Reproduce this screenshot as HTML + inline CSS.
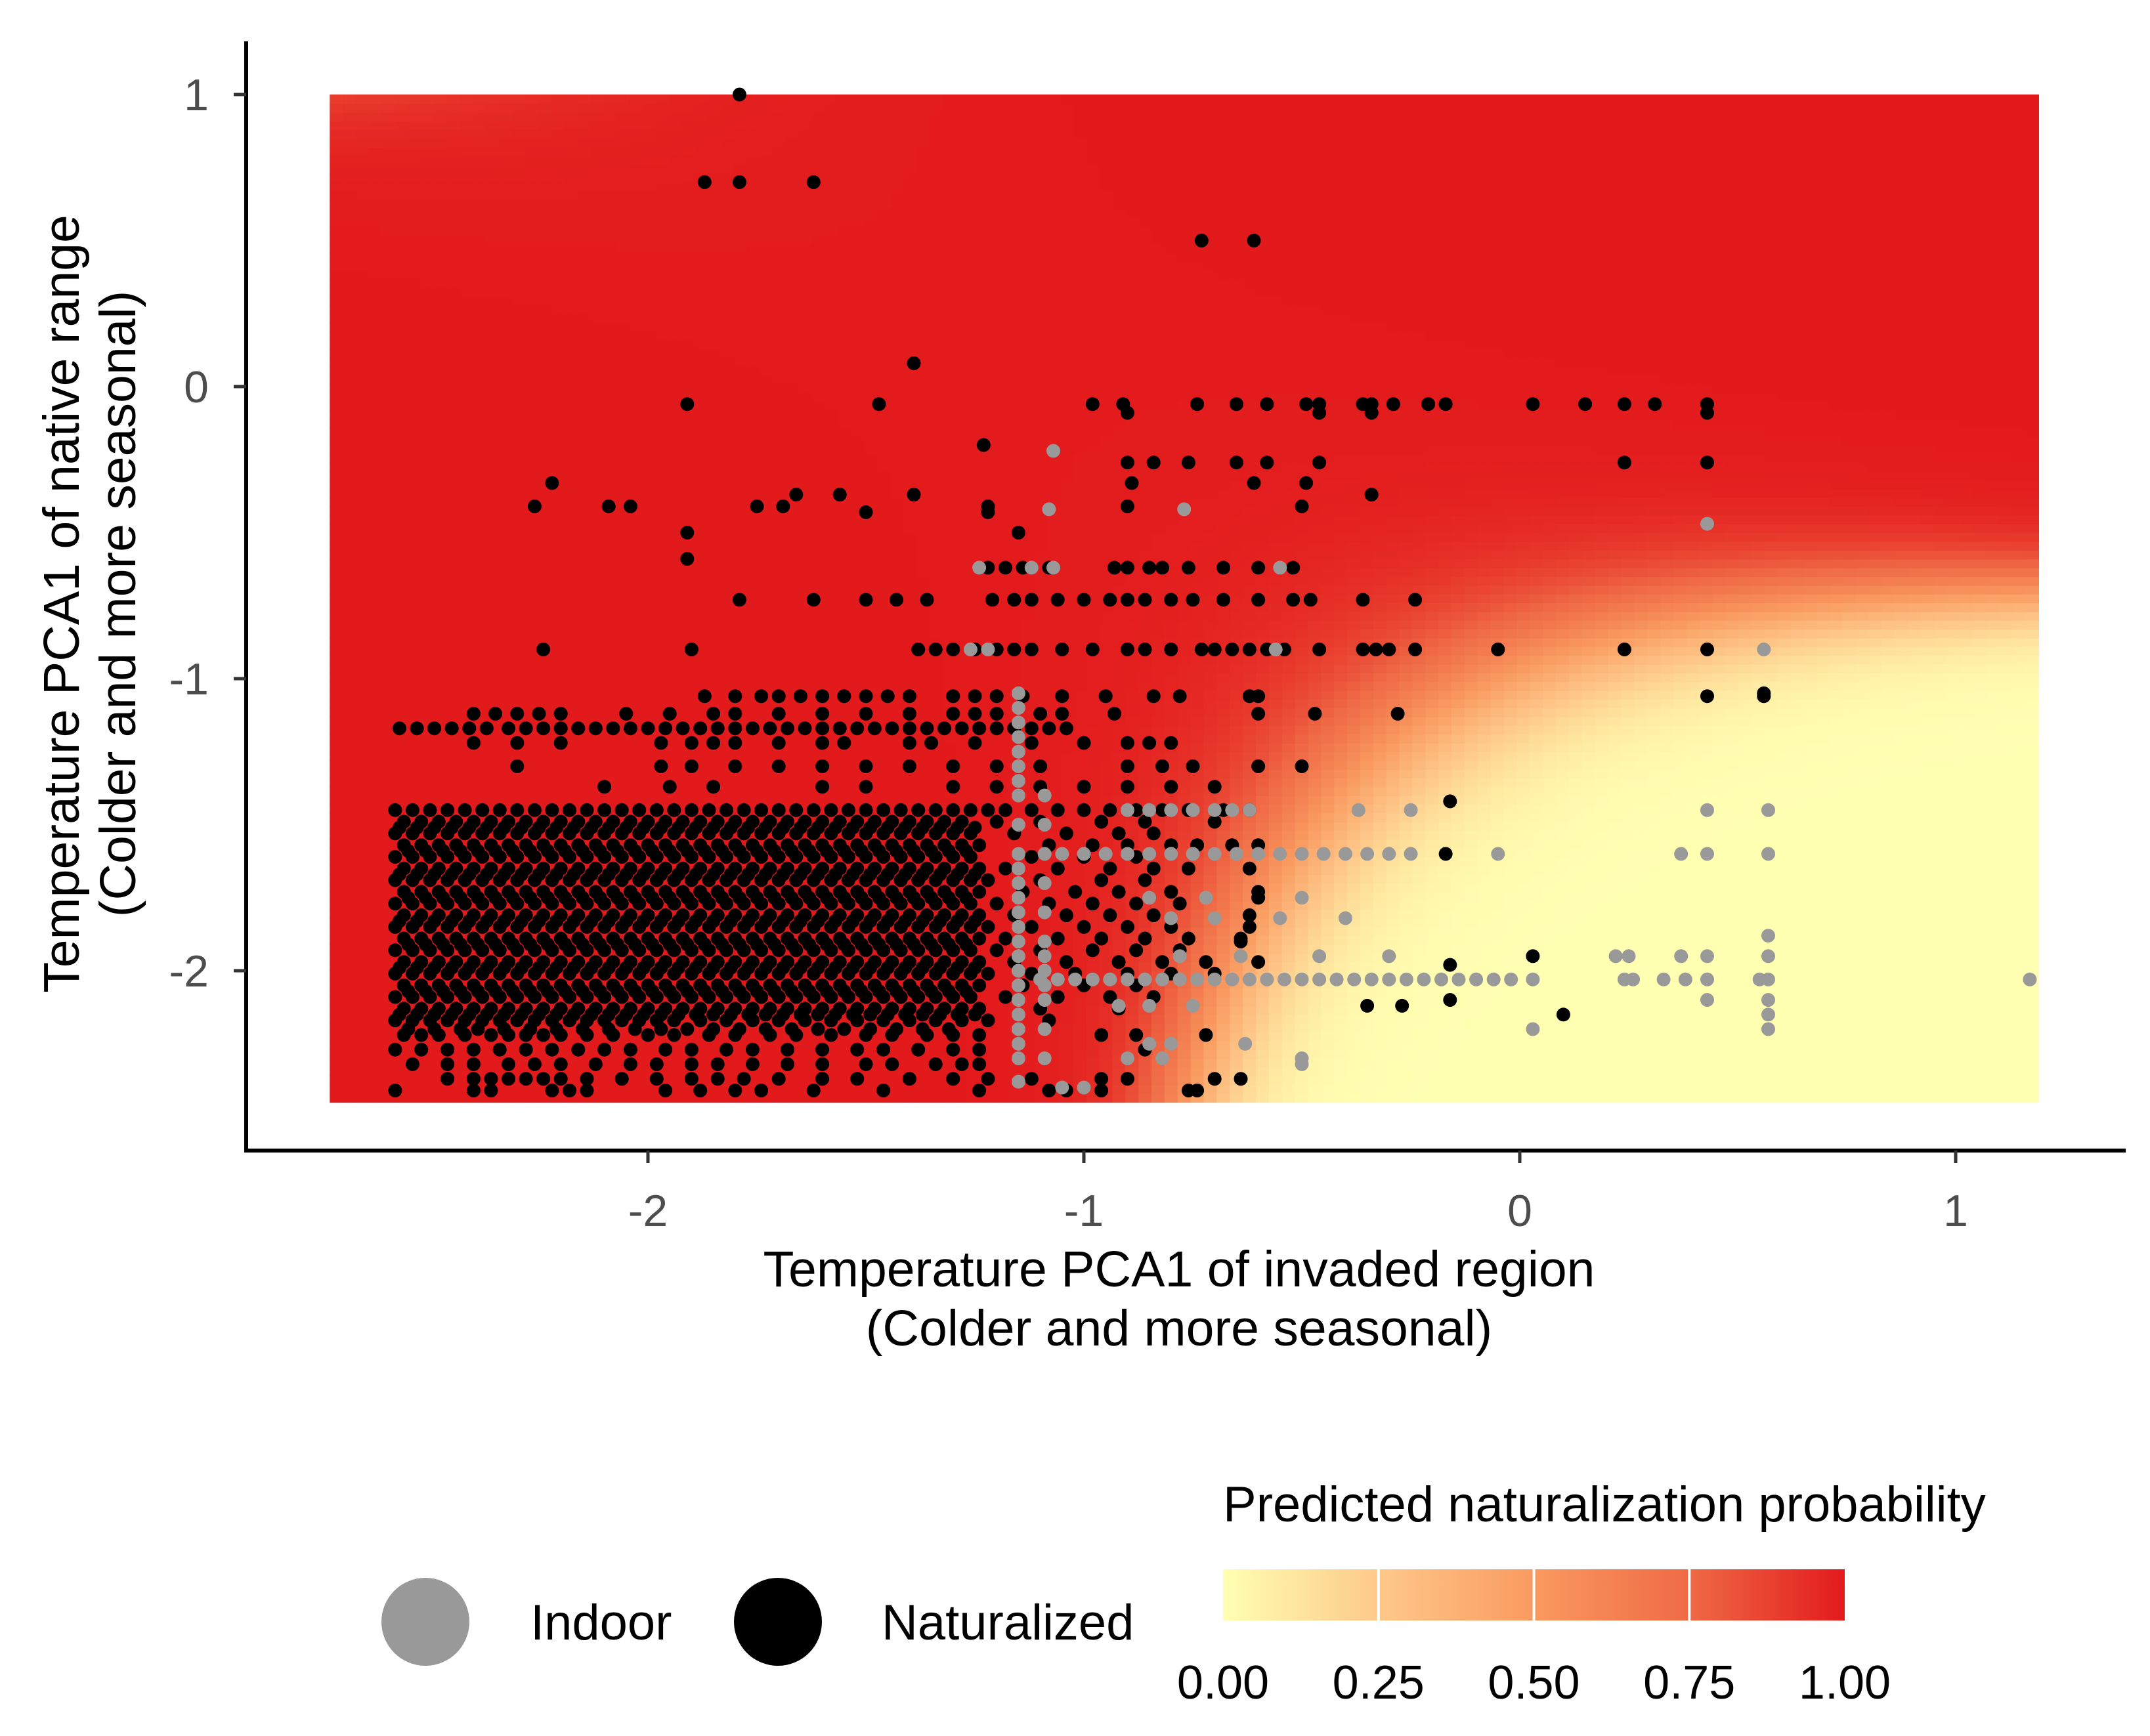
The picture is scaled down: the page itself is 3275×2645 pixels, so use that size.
<!DOCTYPE html>
<html><head><meta charset="utf-8"><style>
html,body{margin:0;padding:0;background:#fff}
svg{display:block;font-family:"Liberation Sans",Arial,sans-serif}
</style></head><body>
<svg id="chart" width="3275" height="2645" viewBox="0 0 3275 2645" xmlns="http://www.w3.org/2000/svg">
<rect width="3275" height="2645" fill="#fff"/>
<g id="heat"></g>
<g id="pts"></g>
<g id="axes"></g>
<text x="1796" y="1960" font-size="77" text-anchor="middle" fill="#000">Temperature PCA1 of invaded region</text>
<text x="1796" y="2050" font-size="77" text-anchor="middle" fill="#000">(Colder and more seasonal)</text>
<text transform="translate(120,920) rotate(-90)" font-size="77" text-anchor="middle" fill="#000">Temperature PCA1 of native range</text>
<text transform="translate(206,920) rotate(-90)" font-size="77" text-anchor="middle" fill="#000">(Colder and more seasonal)</text>
<g>
<circle cx="648" cy="2471" r="67" fill="#999999"/>
<text x="808" y="2498" font-size="76" fill="#000">Indoor</text>
<circle cx="1185" cy="2471" r="67" fill="#000"/>
<text x="1343" y="2498" font-size="76" fill="#000">Naturalized</text>
</g>
<g id="cbar">
<text x="1863" y="2318" font-size="76" fill="#000">Predicted naturalization probability</text>
<defs><linearGradient id="grad" x1="0" x2="1" y1="0" y2="0">
<stop offset="0" stop-color="#FFFFB2"/><stop offset="0.25" stop-color="#FEC98A"/><stop offset="0.5" stop-color="#F99A60"/><stop offset="0.75" stop-color="#EF6A45"/><stop offset="1" stop-color="#E31A1C"/></linearGradient></defs>
<rect x="1863" y="2391" width="947" height="78" fill="url(#grad)"/>
</g>
</svg>
<script>
const X0=2315, XU=664, Y0=589, YU=445;
function sx(v){return X0+v*XU;}
function sy(v){return Y0-v*YU;}
const NS="http://www.w3.org/2000/svg";
function mk(tag,attrs,parent){const e=document.createElementNS(NS,tag);for(const k in attrs)e.setAttribute(k,attrs[k]);parent.appendChild(e);return e;}

// ---- model / heatmap data ----
const modelCoef=[0.968,0.185,1.0,0.823,0.15];
const modelScale=[6];
const gridX=[-2.73,1.19];
const gridY=[-2.45,1.0];
const colorStops=["#FFFFB2","#FEC98A","#F99A60","#EF6A45","#E31A1C"];
const xTicks=[-2,-1,0,1];
const yTicks=[1,0,-1,-2];
const cbarTicks=["0.00","0.25","0.50","0.75","1.00"];

// ---- point data (values in hundredths) ----
const natRows=[
[-145,[-258,-254,-250,-246,-242,-238,-234,-230,-226,-222,-218,-214,-210,-206,-202,-198,-194,-190,-186,-182,-178,-174,-170,-166,-162,-158,-154,-150,-146,-142,-138,-134,-130,-126,-122,-118,-112,-106,-100,-94,-88,-82,-76,-68,-62]],
[-149,[-256,-252,-248,-244,-240,-236,-232,-228,-224,-220,-216,-212,-208,-204,-200,-196,-192,-188,-184,-180,-176,-172,-168,-164,-160,-156,-152,-148,-144,-140,-136,-132,-128,-120,-110,-96,-86,-70]],
[-153,[-258,-254,-250,-246,-242,-238,-234,-230,-226,-222,-218,-214,-210,-206,-202,-198,-194,-190,-186,-182,-178,-174,-170,-166,-162,-158,-154,-150,-146,-142,-138,-134,-130,-126,-116,-104,-92,-84]],
[-157,[-256,-252,-248,-244,-240,-236,-232,-228,-224,-220,-216,-212,-208,-204,-200,-196,-192,-188,-184,-180,-176,-172,-168,-164,-160,-156,-152,-148,-144,-140,-136,-132,-128,-124,-108,-98,-90,-80,-74,-66,-60]],
[-161,[-258,-254,-250,-246,-242,-238,-234,-230,-226,-222,-218,-214,-210,-206,-202,-198,-194,-190,-186,-182,-178,-174,-170,-166,-162,-158,-154,-150,-146,-142,-138,-134,-130,-126,-112,-100,-88]],
[-165,[-256,-252,-248,-244,-240,-236,-232,-228,-224,-220,-216,-212,-208,-204,-200,-196,-192,-188,-184,-180,-176,-172,-168,-164,-160,-156,-152,-148,-144,-140,-136,-132,-128,-124,-118,-106,-94,-84,-76,-62]],
[-169,[-258,-254,-250,-246,-242,-238,-234,-230,-226,-222,-218,-214,-210,-206,-202,-198,-194,-190,-186,-182,-178,-174,-170,-166,-162,-158,-154,-150,-146,-142,-138,-134,-130,-126,-122,-110,-96,-86]],
[-173,[-256,-252,-248,-244,-240,-236,-232,-228,-224,-220,-216,-212,-208,-204,-200,-196,-192,-188,-184,-180,-176,-172,-168,-164,-160,-156,-152,-148,-144,-140,-136,-132,-128,-124,-114,-102,-92,-80,-60]],
[-177,[-258,-254,-250,-246,-242,-238,-234,-230,-226,-222,-218,-214,-210,-206,-202,-198,-194,-190,-186,-182,-178,-174,-170,-166,-162,-158,-154,-150,-146,-142,-138,-134,-130,-126,-120,-108,-98,-88,-78]],
[-181,[-256,-252,-248,-244,-240,-236,-232,-228,-224,-220,-216,-212,-208,-204,-200,-196,-192,-188,-184,-180,-176,-172,-168,-164,-160,-156,-152,-148,-144,-140,-136,-132,-128,-124,-116,-104,-94,-84,-62]],
[-185,[-258,-254,-250,-246,-242,-238,-234,-230,-226,-222,-218,-214,-210,-206,-202,-198,-194,-190,-186,-182,-178,-174,-170,-166,-162,-158,-154,-150,-146,-142,-138,-134,-130,-126,-122,-112,-100,-90,-80]],
[-189,[-256,-252,-248,-244,-240,-236,-232,-228,-224,-220,-216,-212,-208,-204,-200,-196,-192,-188,-184,-180,-176,-172,-168,-164,-160,-156,-152,-148,-144,-140,-136,-132,-128,-124,-118,-106,-96,-86,-76,-64]],
[-193,[-258,-254,-250,-246,-242,-238,-234,-230,-226,-222,-218,-214,-210,-206,-202,-198,-194,-190,-186,-182,-178,-174,-170,-166,-162,-158,-154,-150,-146,-142,-138,-134,-130,-126,-120,-110,-98,-88,-78]],
[-197,[-256,-252,-248,-244,-240,-236,-232,-228,-224,-220,-216,-212,-208,-204,-200,-196,-192,-188,-184,-180,-176,-172,-168,-164,-160,-156,-152,-148,-144,-140,-136,-132,-128,-124,-116,-104,-92,-82,-72]],
[-201,[-258,-254,-250,-246,-242,-238,-234,-230,-226,-222,-218,-214,-210,-206,-202,-198,-194,-190,-186,-182,-178,-174,-170,-166,-162,-158,-154,-150,-146,-142,-138,-134,-130,-126,-122,-112,-102,-90,-80,-70]],
[-205,[-256,-252,-248,-244,-240,-236,-232,-228,-224,-220,-216,-212,-208,-204,-200,-196,-192,-188,-184,-180,-176,-172,-168,-164,-160,-156,-152,-148,-144,-140,-136,-132,-128,-124,-114,-100,-88]],
[-209,[-258,-254,-250,-246,-242,-238,-234,-230,-226,-222,-218,-214,-210,-206,-202,-198,-194,-190,-186,-182,-178,-174,-170,-166,-162,-158,-154,-150,-146,-142,-138,-134,-130,-126,-118,-106,-94,-84]],
[-213,[-256,-252,-248,-244,-240,-236,-232,-228,-224,-220,-216,-212,-208,-204,-200,-196,-192,-188,-184,-180,-176,-172,-168,-164,-160,-156,-152,-148,-144,-140,-136,-132,-128,-124,-110,-92]],
[-217,[-258,-254,-250,-246,-242,-238,-234,-230,-226,-222,-218,-214,-210,-206,-202,-198,-194,-188,-182,-176,-170,-164,-158,-152,-146,-140,-134,-128,-122,-108]],
[-151,[-257,-253,-249,-245,-241,-237,-233,-229,-225,-221,-217,-213,-209,-205,-201,-197,-193,-189,-185,-181,-177,-173,-169,-165,-161,-157,-153,-149,-145,-141,-137,-133,-129,-125]],
[-159,[-255,-251,-247,-243,-239,-235,-231,-227,-223,-219,-215,-211,-207,-203,-199,-195,-191,-187,-183,-179,-175,-171,-167,-163,-159,-155,-151,-147,-143,-139,-135,-131,-127]],
[-167,[-257,-253,-249,-245,-241,-237,-233,-229,-225,-221,-217,-213,-209,-205,-201,-197,-193,-189,-185,-181,-177,-173,-169,-165,-161,-157,-153,-149,-145,-141,-137,-133,-129,-125]],
[-175,[-255,-251,-247,-243,-239,-235,-231,-227,-223,-219,-215,-211,-207,-203,-199,-195,-191,-187,-183,-179,-175,-171,-167,-163,-159,-155,-151,-147,-143,-139,-135,-131,-127]],
[-183,[-257,-253,-249,-245,-241,-237,-233,-229,-225,-221,-217,-213,-209,-205,-201,-197,-193,-189,-185,-181,-177,-173,-169,-165,-161,-157,-153,-149,-145,-141,-137,-133,-129,-125]],
[-191,[-255,-251,-247,-243,-239,-235,-231,-227,-223,-219,-215,-211,-207,-203,-199,-195,-191,-187,-183,-179,-175,-171,-167,-163,-159,-155,-151,-147,-143,-139,-135,-131,-127]],
[-199,[-257,-253,-249,-245,-241,-237,-233,-229,-225,-221,-217,-213,-209,-205,-201,-197,-193,-189,-185,-181,-177,-173,-169,-165,-161,-157,-153,-149,-145,-141,-137,-133,-129,-125]],
[-207,[-255,-251,-247,-243,-239,-235,-231,-227,-223,-219,-215,-211,-207,-203,-199,-195,-191,-187,-183,-179,-175,-171,-167,-163,-159,-155,-151,-147,-143,-139,-135,-131,-127]],
[-215,[-257,-253,-249,-245,-241,-237,-233,-229,-225,-221,-217,-213,-209,-205,-201,-197,-193,-189,-185,-181,-177,-173,-169,-165,-161,-157,-153,-149,-145,-141,-137,-133,-129,-125]],
[-220,[-255,-249,-243,-239,-233,-227,-221,-215,-209,-203,-197,-191,-185,-179,-173,-167,-161,-155,-149,-143,-137,-131]],
[-222,[-256,-252,-248,-242,-236,-232,-228,-224,-220,-214,-208,-200,-194,-186,-180,-172,-166,-158,-150,-144,-136,-130,-124,-96,-88,-72]],
[-227,[-258,-252,-246,-240,-234,-228,-222,-216,-210,-204,-196,-190,-182,-176,-168,-160,-152,-146,-138,-130,-124,-86]],
[-232,[-254,-246,-240,-232,-226,-220,-212,-204,-198,-190,-184,-176,-168,-160,-150,-144,-134,-128,-124]],
[-237,[-246,-240,-236,-232,-228,-224,-220,-214,-206,-198,-190,-184,-178,-170,-160,-152,-140,-130,-122,-112,-96,-90,-70,-64]],
[-241,[-258,-240,-236,-222,-218,-214,-196,-188,-180,-174,-162,-146,-124,-108,-104,-96,-76,-74]],
[-117,[-257,-253,-249,-245,-241,-237,-232,-228,-224,-220,-216,-212,-208,-204,-200,-196,-192,-188,-184,-180,-176,-172,-168,-164,-160,-156,-152,-148,-144,-140,-136,-132,-128,-124,-120,-116,-112,-108,-104]],
[-122,[-240,-230,-220,-197,-190,-185,-180,-170,-160,-155,-140,-135,-125,-112,-100,-90,-85,-80]],
[-112,[-240,-235,-230,-225,-220,-205,-195,-185,-180,-170,-160,-150,-140,-130,-125,-120,-110,-105,-93,-60,-47,-28]],
[-130,[-230,-197,-190,-180,-170,-160,-150,-140,-130,-120,-110,-90,-82,-75,-60,-50]],
[-137,[-210,-195,-185,-160,-150,-130,-120,-110,-100,-90,-80,-70]],
[-106,[-187,-180,-174,-170,-165,-160,-155,-150,-145,-140,-130,-125,-120,-114,-105,-95,-84,-78,-62,-60,43,56]],
[-90,[-138,-134,-130,-125,-120,-116,-112,-105,-98,-90,-86,-80,-73,-70,-66,-62,-58,-54,-46,-36,-33,-30,-24,24,43,-5,-224,-190]],
[-73,[-179,-162,-150,-143,-136,-121,-116,-112,-106,-100,-94,-90,-86,-80,-75,-68,-60,-52,-48,-36,-24]],
[-62,[-122,-118,-114,-108,-93,-90,-85,-82,-76,-68,-60,-52]],
[-41,[-226,-209,-204,-175,-169,-122,-90,-50]],
[-37,[-166,-156,-139,-34]],
[-26,[-84,-76,-65,-58,-46,24,43,-90]],
[-6,[-91,-74,-65,-58,-49,-46,-36,-34,-29,-21,-17,3,15,24,31,43,-98,-147,-191]],
[-9,[-90,-46,-34,43]],
[-33,[-89,-61,-49,-222]],
[50,[-73,-61]],[70,[-187,-179,-162]],[100,[-179]],[8,[-139]],
[-20,[-123]],[-43,[-150,-122]],[-50,[-191,-115]],[-59,[-191]],
[-142,[-16]],[-160,[-17]],[-195,[3]],[-215,[10]],[-198,[-16]],[-210,[-16]],
[-212,[-35,-27]],[-105,[56]],[-175,[-60]],[-185,[-62]],[-197,[-60]],[-190,[-64]]
];
const indoorRows=[
[-203,[-110,-106,-102,-98,-94,-90,-86,-82,-78,-74,-70,-66,-62,-58,-54,-50,-46,-42,-38,-34,-30,-26,-22,-18,-14,-10,-6,-2,3,24,26,33,38,43,55,57,117]],
[-160,[-105,-100,-95,-90,-85,-80,-75,-70,-65,-60,-55,-50,-45,-40,-35,-30,-25,-5,37,43,57]],
[-145,[-90,-85,-80,-75,-70,-66,-62,-37,-25,43,57]],
[-22,[-107]],[-42,[-108,-77]],[-62,[-107,-55,-124,-112]],[-47,[43]],[-90,[56,-126,-122,-56]],
[-195,[22,25,37,43,57]],[-188,[57]],[-210,[43,57]],[-215,[57]],[-220,[3,57]],
[-225,[-63,-85,-80]],[-230,[-50,-90,-82]],[-232,[-50]],[-212,[-75,-85,-92]],[-182,[-70,-80,-55,-40]],
[-175,[-85,-72,-50]],[-195,[-78,-64,-46,-30]],[-240,[-105,-100]]
];
// columns: [x, [y values]]
const indoorCols=[
[-115,[-105,-110,-115,-120,-125,-130,-135,-140,-150,-160,-165,-170,-175,-180,-185,-190,-195,-200,-205,-210,-215,-220,-225,-230,-238]],
[-109,[-140,-150,-160,-170,-180,-190,-195,-200,-205,-210,-220,-230]]
];

// heatmap
const heat=document.getElementById('heat');
function logistic(x,y){const c=modelCoef;const l=modelScale[0]*(c[0]+c[1]*x+c[2]*y+c[3]*x*y+c[4]*x*x);return 1/(1+Math.exp(-l));}
function hex(h){return [parseInt(h.slice(1,3),16),parseInt(h.slice(3,5),16),parseInt(h.slice(5,7),16)];}
const stopsRGB=colorStops.map(hex);
function col(p){const t=p*(stopsRGB.length-1);const i=Math.min(stopsRGB.length-2,Math.floor(t));const f=t-i;const a=stopsRGB[i],b=stopsRGB[i+1];return 'rgb('+[0,1,2].map(k=>Math.round(a[k]+(b[k]-a[k])*f)).join(',')+')';}
const step=0.03;
const nx=Math.round((gridX[1]-gridX[0])/step), ny=Math.round((gridY[1]-gridY[0])/step);
const cw=(sx(gridX[1])-sx(gridX[0]))/nx, ch=(sy(gridY[0])-sy(gridY[1]))/ny;
for(let i=0;i<nx;i++){for(let j=0;j<ny;j++){
 const xv=gridX[0]+(i+0.5)*(gridX[1]-gridX[0])/nx, yv=gridY[0]+(j+0.5)*(gridY[1]-gridY[0])/ny;
 const r=mk('rect',{x:(sx(gridX[0])+i*cw).toFixed(1),y:(sy(gridY[1])+(ny-1-j)*ch).toFixed(1),width:(cw+0.8).toFixed(1),height:(ch+0.8).toFixed(1),fill:col(logistic(xv,yv))},heat);
 
 
}}

// points
const pts=document.getElementById('pts');
function dot(xv,yv,fill,name){
 const c=mk('circle',{cx:sx(xv/100).toFixed(1),cy:sy(yv/100).toFixed(1),r:10.5,fill:fill},pts);
 
 
}
natRows.forEach(([yv,xs])=>xs.forEach(xv=>dot(xv,yv,'#000','naturalized-point')));
indoorRows.forEach(([yv,xs])=>xs.forEach(xv=>dot(xv,yv,'#999999','indoor-point')));
indoorCols.forEach(([xv,ys])=>ys.forEach(yv=>dot(xv,yv,'#999999','indoor-point')));

// axes
const ax=document.getElementById('axes');
const yl=mk('line',{x1:375,y1:63,x2:375,y2:1756,stroke:'#000','stroke-width':6},ax);


const xl=mk('line',{x1:372,y1:1753,x2:3238,y2:1753,stroke:'#000','stroke-width':6},ax);


xTicks.forEach(v=>{
 const t=mk('line',{x1:sx(v),y1:1753,x2:sx(v),y2:1772,stroke:'#333','stroke-width':5},ax);
 
 
 const l=mk('text',{x:sx(v),y:1868,'font-size':68,'text-anchor':'middle',fill:'#4D4D4D'},ax);
 l.textContent=v;
 
 
});
yTicks.forEach(v=>{
 const t=mk('line',{x1:356,y1:sy(v),x2:375,y2:sy(v),stroke:'#333','stroke-width':5},ax);
 
 
 const l=mk('text',{x:318,y:sy(v)+24,'font-size':68,'text-anchor':'end',fill:'#4D4D4D'},ax);
 l.textContent=v;
 
 
});
// colorbar ticks
const cb=document.getElementById('cbar');
cbarTicks.forEach((s,i)=>{
 const x=1863+947*i/(cbarTicks.length-1);
 if(i>0&&i<cbarTicks.length-1){
  const t=mk('line',{x1:x,y1:2391,x2:x,y2:2469,stroke:'#fff','stroke-width':4},cb);
  
  
 }
 const l=mk('text',{x:x,y:2588,'font-size':72,'text-anchor':'middle',fill:'#000'},cb);
 l.textContent=s;
 
 
});
</script>
</body></html>
